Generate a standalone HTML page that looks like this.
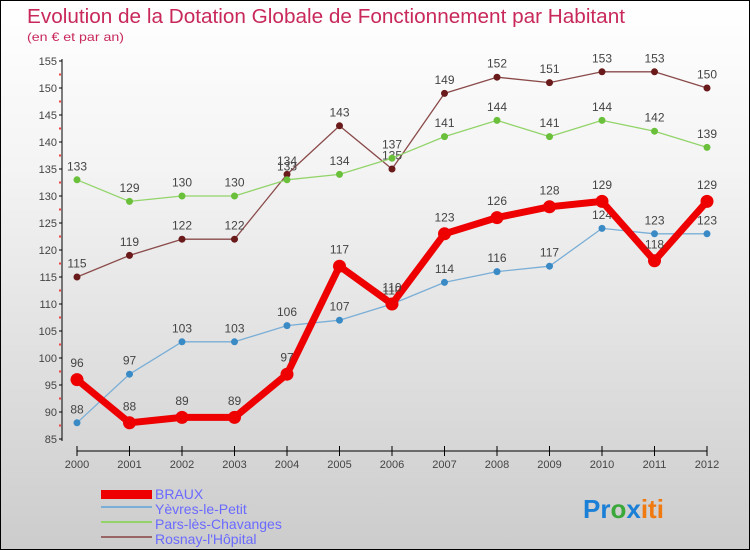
<!DOCTYPE html>
<html><head><meta charset="utf-8"><style>
body{margin:0}
#c{width:748px;height:548px;border:1px solid #000;background:linear-gradient(#fff,#f4f4f4 30%,#ccc);font-family:"Liberation Sans",sans-serif;position:relative;overflow:hidden}
</style></head><body>
<div id="c">
<svg id="s" width="748" height="548">
<text x="26" y="22" font-size="20" fill="#c8285a" textLength="598" lengthAdjust="spacingAndGlyphs">Evolution de la Dotation Globale de Fonctionnement par Habitant</text>
<text x="26" y="40" font-size="12" fill="#c8285a" textLength="97" lengthAdjust="spacingAndGlyphs">(en € et par an)</text>
<g id="axes"></g><g id="series"></g>
<g font-size="14" fill="#6a6aff">
<rect x="100" y="489" width="51" height="9" fill="#e00"/>
<text x="154" y="498">BRAUX</text>
<rect x="100" y="505" width="51" height="2" fill="#7aaed6"/>
<text x="154" y="513">Yèvres-le-Petit</text>
<rect x="100" y="520" width="51" height="2" fill="#92d46a"/>
<text x="154" y="528">Pars-lès-Chavanges</text>
<rect x="100" y="535" width="51" height="2" fill="#996666"/>
<text x="154" y="543">Rosnay-l'Hôpital</text>
</g>
<text x="582" y="517" font-size="26" font-weight="bold"><tspan fill="#1a7fd6">Pr</tspan><tspan fill="#3aa83a">o</tspan><tspan fill="#1a7fd6">x</tspan><tspan fill="#f07a10">iti</tspan></text>
</svg></div>
<script>
const years=[2000,2001,2002,2003,2004,2005,2006,2007,2008,2009,2010,2011,2012];
const yTicks=[85,90,95,100,105,110,115,120,125,130,135,140,145,150,155];
const braux=[96,88,89,89,97,117,110,123,126,128,129,118,129];
const yevres=[88,97,103,103,106,107,110,114,116,117,124,123,123];
const pars=[133,129,130,130,133,134,137,141,144,141,144,142,139];
const rosnay=[115,119,122,122,134,143,135,149,152,151,153,153,150];
const NS='http://www.w3.org/2000/svg';
function X(i){return 76+i*52.5;}
function Y(v){return 60+(155-v)*5.4;}
function mk(t,a,p){const e=document.createElementNS(NS,t);for(const k in a)e.setAttribute(k,a[k]);p.appendChild(e);return e;}
const ax=document.getElementById('axes');
const yl=mk('line',{x1:61,y1:58,x2:61,y2:440,stroke:'#000'},ax);


yTicks.forEach(v=>{mk('line',{x1:58,y1:Y(v),x2:61,y2:Y(v),stroke:'#000'},ax);
const t=mk('text',{x:56,y:Y(v)+4,'font-size':11,fill:'#444','text-anchor':'end'},ax);t.textContent=v;


if(v<155)mk('rect',{x:58,y:Y(v+2.5)-1,width:2,height:2,fill:'#e44'},ax);});
const xl=mk('line',{x1:76,y1:450,x2:706,y2:450,stroke:'#000'},ax);


years.forEach((y,i)=>{mk('line',{x1:X(i),y1:445,x2:X(i),y2:455,stroke:'#000'},ax);
const t=mk('text',{x:X(i),y:467,'font-size':11,fill:'#444','text-anchor':'middle'},ax);t.textContent=y;

});
const sg=document.getElementById('series');
function draw(d,name,col,w,r,dot){
const g=mk('g',{},sg);


mk('polyline',{points:d.map((v,i)=>X(i)+','+Y(v)).join(' '),fill:'none',stroke:col,'stroke-width':w,'stroke-linejoin':'round'},g);
d.forEach((v,i)=>{const c=mk('circle',{cx:X(i),cy:Y(v),r:r,fill:dot},g);


const t=mk('text',{x:X(i),y:Y(v)-(r+6),'font-size':12,fill:'#444','text-anchor':'middle'},g);t.textContent=v;

});}
draw(rosnay,'rosnay','#8a4a4a',1.3,3.5,'#6a1a1a');
draw(pars,'pars','#92d46a',1.3,3.5,'#6ac03a');
draw(yevres,'yevres','#7aaed6',1.3,3.5,'#3a8ac6');
draw(braux,'braux','#e00',7,6.5,'#e00');
</script>
</body></html>
